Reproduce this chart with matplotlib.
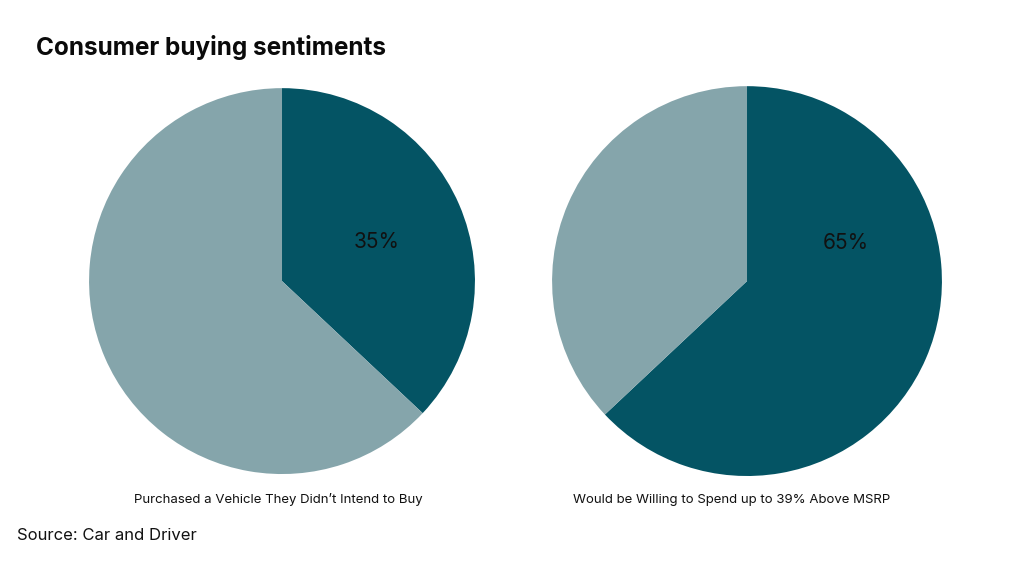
import matplotlib.pyplot as plt

# share of each pie (dark slice first)
left_values = [37, 63]
right_values = [63, 37]
left_label = '35%'
right_label = '65%'
captions = ["Purchased a Vehicle They Didn\u2019t Intend to Buy",
            'Would be Willing to Spend up to 39% Above MSRP']
title = 'Consumer buying sentiments'
source = 'Source: Car and Driver'

dark = '#045464'
light = '#85a5ab'

plt.rcParams['font.family'] = ['Inter', 'DejaVu Sans']

fig = plt.figure(figsize=(10.24, 5.65), dpi=100)
fig.patch.set_facecolor('white')

ax1 = fig.add_axes([0.0869, 0.161, 0.377, 0.683])
ax2 = fig.add_axes([0.539, 0.1575, 0.381, 0.690])

for ax, values, label, pos in [(ax1, left_values, left_label, (0.49, 0.20)),
                               (ax2, right_values, right_label, (0.505, 0.196))]:
    ax.pie(values, colors=[dark, light], startangle=90, counterclock=False,
           wedgeprops=dict(linewidth=0))
    ax.set_xlim(-1, 1)
    ax.set_ylim(-1, 1)
    ax.set_aspect('equal')
    ax.axis('off')
    ax.text(pos[0], pos[1], label, ha='center', va='center', fontsize=15,
            color='#111111')

fig.text(36 / 1024, 1 - 47 / 565, title, fontsize=17.5, fontweight='bold',
         ha='left', va='center', color='#0a0a0a')
fig.text(278 / 1024, 1 - 500 / 565, captions[0], fontsize=9.5, ha='center',
         va='center', color='#111111')
fig.text(732 / 1024, 1 - 500 / 565, captions[1], fontsize=9.5, ha='center',
         va='center', color='#111111')
fig.text(17 / 1024, 1 - 536 / 565, source, fontsize=12, ha='left',
         va='center', color='#111111')

plt.savefig('out.png', dpi=100)
